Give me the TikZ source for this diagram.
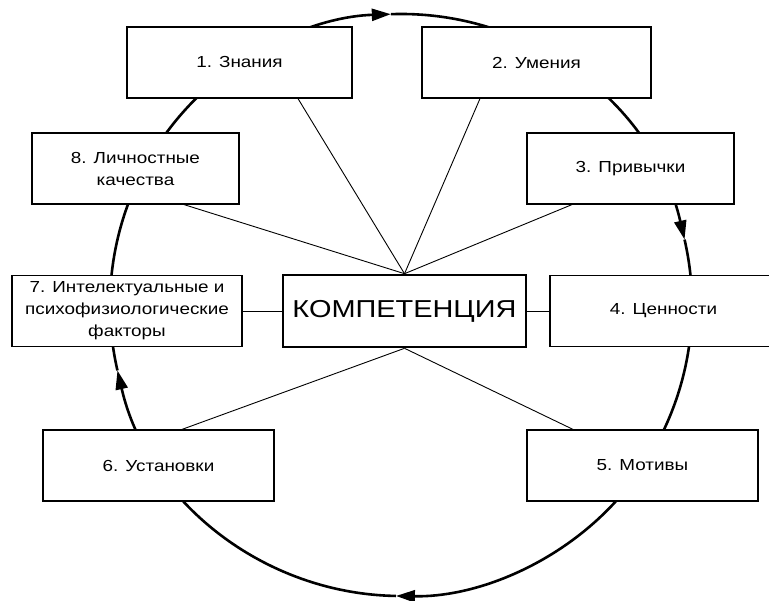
\documentclass[tikz,border=0pt]{standalone}
\usepackage{fontspec}
\setmainfont{Liberation Sans}[FakeStretch=1.18]
\usetikzlibrary{arrows.meta}

\begin{document}
\begin{tikzpicture}[x=1pt,y=-1pt,
    box/.style={draw=black, line width=1.2pt, fill=white, inner sep=0pt,
        minimum height=71pt, align=center, font=\fontsize{16}{22}\selectfont},
    ring/.style={line width=2.6pt, -{Triangle[length=19pt,width=12pt]}},
    link/.style={line width=0.9pt}]

    \useasboundingbox (0,0) rectangle (769,601);

    % the ring, clockwise
    \coordinate (o) at (401,305);
    \draw[ring] (o) ++(92:291pt) arc[start angle=92, end angle=13, radius=291pt];
    \draw[ring] (o) ++(13:291pt) arc[start angle=13, end angle=-91, radius=291pt];
    \draw[ring] (o) ++(-91:291pt) arc[start angle=-91, end angle=-167, radius=291pt];
    \draw[ring] (o) ++(-167:291pt) arc[start angle=-167, end angle=-268, radius=291pt];

    \node[box, minimum width=225pt] (b1) at (239.5,62.5) {1. Знания};
    \node[box, minimum width=229pt] (b2) at (536.5,62.5) {2. Умения};
    \node[box, minimum width=207pt] (b3) at (630.5,168.5) {3. Привычки};
    \node[box, minimum width=227pt] (b4) at (663.5,311) {4. Ценности};
    \node[box, minimum width=231pt] (b5) at (642.5,465.5) {5. Мотивы};
    \node[box, minimum width=231pt] (b6) at (158.5,465.5) {6. Установки};
    \node[box, minimum width=230pt] (b7) at (127,311) {7. Интелектуальные и\\психофизиологические\\факторы};
    \node[box, minimum width=207pt] (b8) at (135.5,168.5) {8. Личностные\\качества};
    \node[box, line width=2.6pt, minimum width=243pt, minimum height=72pt,
        font=\fontsize{24.5}{28}\selectfont] (comp) at (404.5,311) {КОМПЕТЕНЦИЯ};

    \draw[link] (comp.north) -- ([xshift=58.5pt]b1.south);
    \draw[link] (comp.north) -- ([xshift=-56.5pt]b2.south);
    \draw[link] (comp.north) -- ([xshift=-58.5pt]b3.south);
    \draw[link] (comp.north) -- ([xshift=48.5pt]b8.south);
    \draw[link] (comp.south) -- ([xshift=23.5pt]b6.north);
    \draw[link] (comp.south) -- ([xshift=-69.5pt]b5.north);
    \draw[link] (b7) -- (comp);
    \draw[link] (comp) -- (b4);

\end{tikzpicture}
\end{document}
